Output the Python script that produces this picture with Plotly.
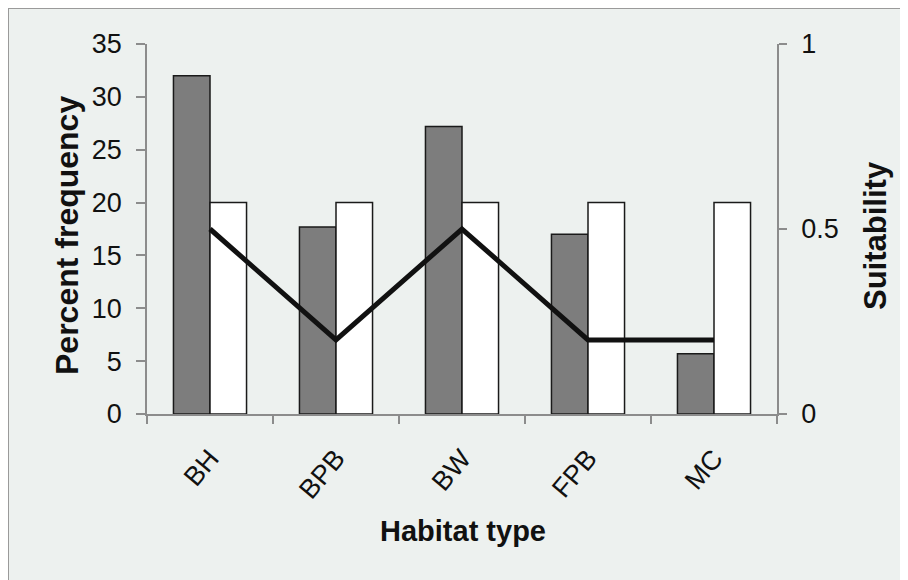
import plotly.graph_objects as go

categories = ["BH", "BPB", "BW", "FPB", "MC"]
percent_used = [32.0, 17.7, 27.2, 17.0, 5.7]
percent_available = [20, 20, 20, 20, 20]
suitability = [0.5, 0.2, 0.5, 0.2, 0.2]

BG = "#edf1ef"
AXIS = "#8c8c8c"
FONT = "Liberation Sans, Arial, sans-serif"

fig = go.Figure()
fig.add_trace(go.Bar(x=categories, y=percent_used, marker=dict(color="#7d7d7d", line=dict(color="#1a1a1a", width=1.5)), showlegend=False))
fig.add_trace(go.Bar(x=categories, y=percent_available, marker=dict(color="#ffffff", line=dict(color="#1a1a1a", width=1.5)), showlegend=False))
fig.add_trace(go.Scatter(x=categories, y=suitability, yaxis="y2", mode="lines", line=dict(color="#111111", width=5), showlegend=False))

# page is drawn with an 8px body offset; work in page pixel coordinates
OFF = 8
W, H = 908 - OFF, 580 - OFF
PL, PR, PT, PB = 147, 777, 44, 414  # plot area in page pixels
L, R, T, B = PL - OFF, W - (PR - OFF), PT - OFF, H - (PB - OFF)
pw, ph = PR - PL, PB - PT

def px(x):
    return (x - PL) / pw

def py(y):
    return (PB - y) / ph

fig.update_layout(
    width=W, height=H,
    margin=dict(l=L, r=R, t=T, b=B, pad=0),
    paper_bgcolor=BG, plot_bgcolor=BG,
    barmode="group", bargap=0.42, bargroupgap=0,
    font=dict(family=FONT, color="#111111", size=24),
    xaxis=dict(
        type="category", tickson="boundaries", ticks="outside", ticklen=8, tickcolor=AXIS, tickwidth=1.5,
        showline=True, linecolor=AXIS, linewidth=1.5, showgrid=False, tickangle=-50,
        tickfont=dict(size=27), ticklabelstandoff=16, range=[-0.5, 4.5],
    ),
    yaxis=dict(
        range=[0, 35], dtick=5, ticks="outside", ticklen=9, tickcolor=AXIS, tickwidth=1.5,
        showline=True, linecolor=AXIS, linewidth=1.5, showgrid=False, zeroline=False,
        tickfont=dict(size=27), ticklabelstandoff=9,
    ),
    yaxis2=dict(
        range=[0, 1], tickvals=[0, 0.5, 1], ticktext=["0", "0.5", "1"], overlaying="y", side="right",
        ticks="outside", ticklen=8, tickcolor=AXIS, tickwidth=1.5,
        showline=True, linecolor=AXIS, linewidth=1.5, showgrid=False, zeroline=False,
        tickfont=dict(size=27), ticklabelstandoff=9,
    ),
    annotations=[
        dict(text="<b>Percent frequency</b>", xref="paper", yref="paper", x=px(67), y=py(236),
             showarrow=False, textangle=-90, font=dict(size=32), xanchor="center", yanchor="middle"),
        dict(text="<b>Suitability</b>", xref="paper", yref="paper", x=px(875), y=py(235),
             showarrow=False, textangle=-90, font=dict(size=31), xanchor="center", yanchor="middle"),
        dict(text="<b>Habitat type</b>", xref="paper", yref="paper", x=px(463), y=py(531),
             showarrow=False, font=dict(size=29), xanchor="center", yanchor="middle"),
    ],
    shapes=[
        dict(type="line", xref="paper", yref="paper", x0=px(8), x1=px(915), y0=py(8), y1=py(8),
             line=dict(color="#9a9a9a", width=2), layer="below"),
        dict(type="line", xref="paper", yref="paper", x0=px(8), x1=px(8), y0=py(8), y1=py(590),
             line=dict(color="#9a9a9a", width=2), layer="below"),
    ],
)

fig.write_html("out.html")
